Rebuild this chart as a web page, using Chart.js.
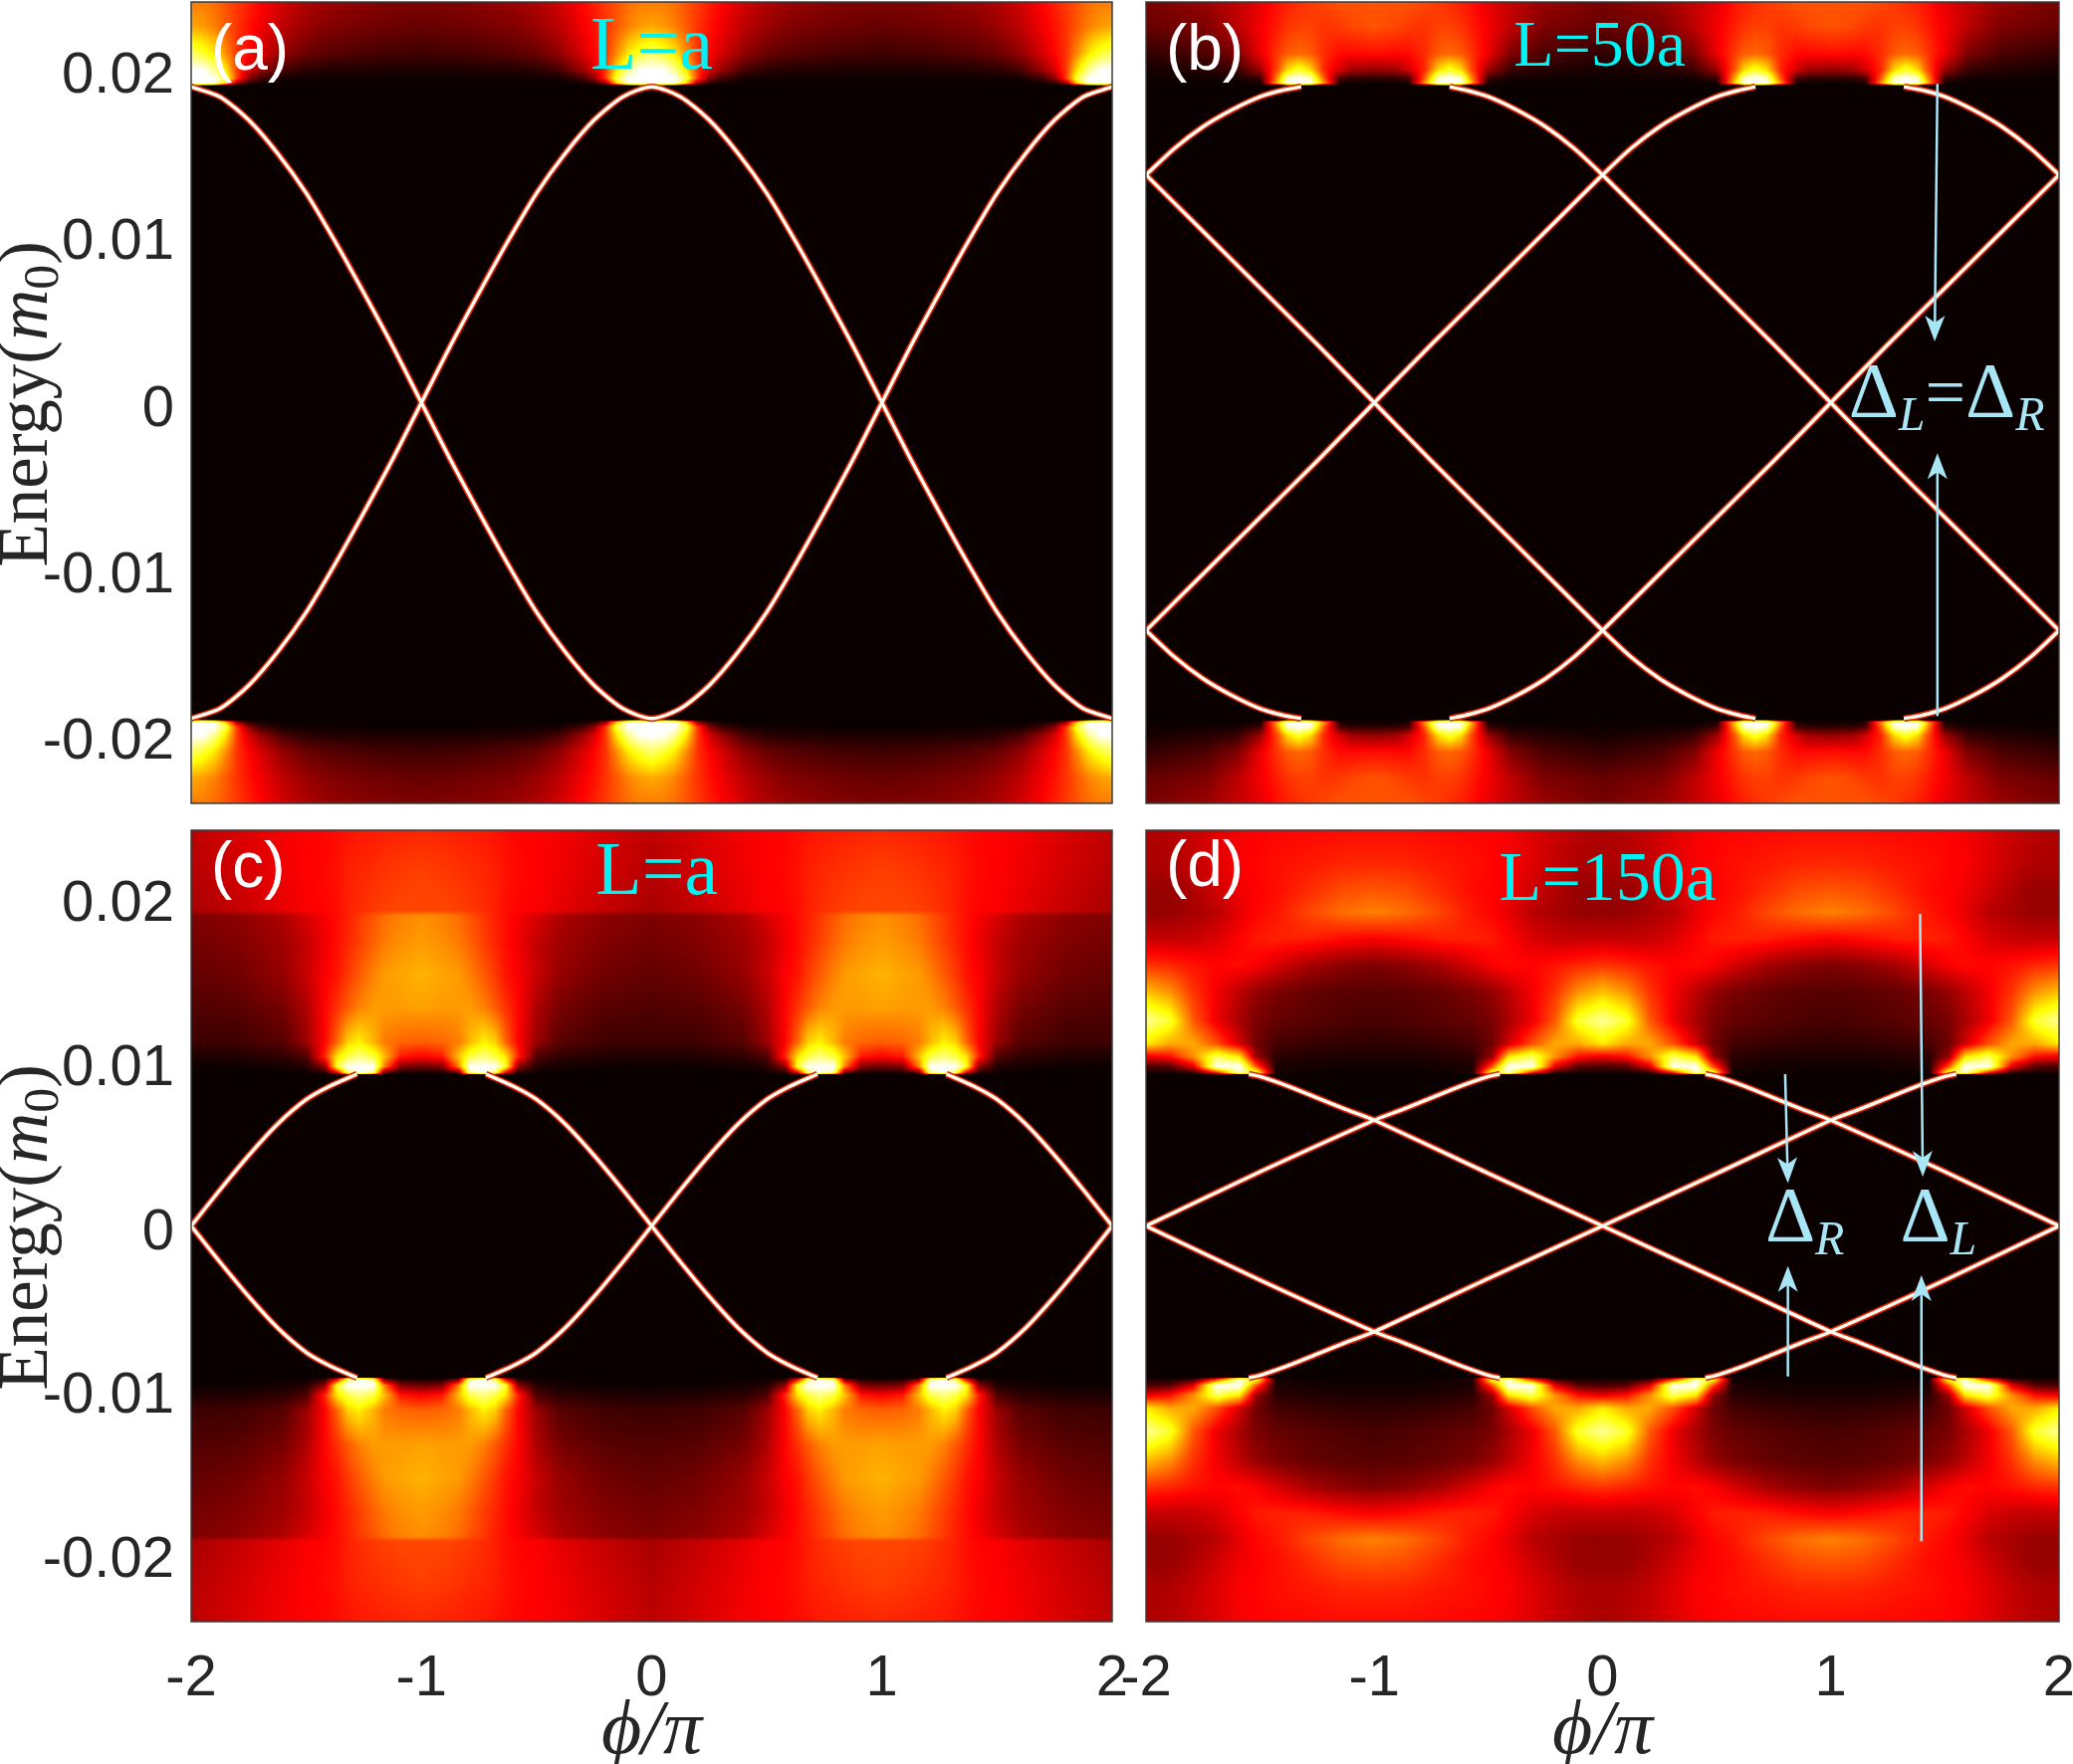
<!DOCTYPE html>
<html>
<head>
<meta charset="utf-8">
<title>Energy spectra</title>
<script src="https://cdn.jsdelivr.net/npm/chart.js@4"></script>
<style>
  html, body { margin: 0; background: #fff; }
  body { width: 2082px; height: 1772px; position: relative; overflow: hidden; }
  canvas { position: absolute; }
</style>
</head>
<body>
<canvas id="panel-a" width="1160" height="820" style="left:0;top:0"></canvas>
<canvas id="panel-b" width="982" height="820" style="left:1100px;top:0"></canvas>
<canvas id="panel-c" width="1160" height="952" style="left:0;top:820px"></canvas>
<canvas id="panel-d" width="982" height="952" style="left:1100px;top:820px"></canvas>
<script>
const xTicks = [-2, -1, 0, 1, 2];
const xTickLabels = ['-2', '-1', '0', '1', '2'];
const yTicks = [-0.02, -0.01, 0, 0.01, 0.02];
const yTickLabels = ['-0.02', '-0.01', '0', '0.01', '0.02'];

// bound-state curves (null = no visible line on the band edge)
const aPhi = [-2, -1.875, -1.75, -1.625, -1.5, -1.375, -1.25, -1.125, -1, -0.875, -0.75, -0.625, -0.5, -0.375, -0.25, -0.125, 0, 0.125, 0.25, 0.375, 0.5, 0.625, 0.75, 0.875, 1, 1.125, 1.25, 1.375, 1.5, 1.625, 1.75, 1.875, 2];
const aCurve = [0.019, 0.0184, 0.017, 0.015, 0.0126, 0.0097, 0.0066, 0.0034, 0, -0.0034, -0.0066, -0.0097, -0.0126, -0.015, -0.017, -0.0184, -0.019, -0.0184, -0.017, -0.015, -0.0126, -0.0097, -0.0066, -0.0034, 0, 0.0034, 0.0066, 0.0097, 0.0126, 0.015, 0.017, 0.0184, 0.019];

const bPhi = [-2, -1.875, -1.75, -1.625, -1.5, -1.4, -1.32, -1, -0.67, -0.6, -0.5, -0.375, -0.25, -0.125, 0, 0.25, 0.5, 0.75, 1, 1.25, 1.5, 1.75, 2];
const bCurve = [0.0137, 0.0153, 0.0166, 0.0176, 0.0184, 0.0188, 0.019, null, 0.019, 0.0188, 0.0184, 0.0176, 0.0166, 0.0153, 0.0137, 0.0103, 0.0069, 0.0035, 0, -0.0035, -0.0069, -0.0103, -0.0137];

const cPhi = [-2, -1.875, -1.75, -1.625, -1.5, -1.4, -1.28, -1, -0.72, -0.6, -0.5, -0.375, -0.25, -0.125, 0, 0.125, 0.25, 0.375, 0.5, 0.6, 0.72, 1, 1.28, 1.4, 1.5, 1.625, 1.75, 1.875, 2];
const cCurve = [0, 0.0022, 0.0043, 0.0062, 0.0077, 0.0085, 0.00925, null, 0.00925, 0.0085, 0.0077, 0.0062, 0.0043, 0.0022, 0, -0.0022, -0.0043, -0.0062, -0.0077, -0.0085, -0.00925, null, -0.00925, -0.0085, -0.0077, -0.0062, -0.0043, -0.0022, 0];

const dPhiOuter = [-2, -1.5, -1, -0.875, -0.75, -0.625, -0.5, -0.45, 0, 0.45, 0.5, 0.625, 0.75, 0.875, 1, 1.5, 2];
const dCurveOuter = [0, 0.0033, 0.00644, 0.0071, 0.0078, 0.0085, 0.0091, 0.00925, null, 0.00925, 0.0091, 0.0085, 0.0078, 0.0071, 0.00644, 0.0033, 0];
const dPhiInner = [-1.55, -1.5, -1.375, -1.25, -1.125, -1, -0.5, 0, 0.5, 1, 1.125, 1.25, 1.375, 1.5, 1.55];
const dCurveInner = [0.00925, 0.0091, 0.0085, 0.0078, 0.0071, 0.00644, 0.0032, 0, -0.0032, -0.00644, -0.0071, -0.0078, -0.0085, -0.0091, -0.00925];

// spectral weight above the gap, 0 black .. 1 white. Rows go up in |E|, columns go
// from phi = 0 to phi = pi (the picture repeats and mirrors these)
const aHeatPhi = [0, 0.05, 0.1, 0.15, 0.2, 0.25, 0.3, 0.4, 0.5, 0.6, 0.8, 1];
const aHeatE = [0.0191, 0.0192, 0.0195, 0.02, 0.021, 0.0226, 0.0241];
const aHeat = [
  [0.5, 0.5, 0.4, 0.1, 0.02, 0.014, 0.014, 0.014, 0.014, 0.014, 0.014, 0.014],
  [1, 1, 1, 0.7, 0.2, 0.06, 0.03, 0.015, 0.015, 0.015, 0.015, 0.015],
  [1, 1, 1, 0.82, 0.45, 0.2, 0.09, 0.03, 0.025, 0.02, 0.02, 0.02],
  [1, 1, 0.9, 0.72, 0.45, 0.31, 0.22, 0.1, 0.06, 0.05, 0.04, 0.04],
  [0.85, 0.8, 0.72, 0.58, 0.44, 0.37, 0.31, 0.21, 0.15, 0.125, 0.1, 0.09],
  [0.62, 0.6, 0.56, 0.5, 0.44, 0.39, 0.35, 0.27, 0.22, 0.185, 0.16, 0.145],
  [0.55, 0.55, 0.53, 0.49, 0.45, 0.41, 0.37, 0.3, 0.25, 0.22, 0.19, 0.18],
];

const bHeatPhi = [0, 0.26, 0.4, 0.5, 0.58, 0.62, 0.67, 0.72, 0.78, 0.85, 0.9, 1];
const bHeatE = [0.0191, 0.0192, 0.0195, 0.02, 0.021, 0.0226, 0.0241];
const bHeat = [
  [0.014, 0.014, 0.014, 0.014, 0.05, 0.4, 0.5, 0.4, 0.05, 0.014, 0.014, 0.014],
  [0.015, 0.015, 0.015, 0.03, 0.7, 1, 1, 1, 0.6, 0.04, 0.02, 0.02],
  [0.02, 0.025, 0.03, 0.08, 0.62, 0.95, 1, 0.95, 0.5, 0.1, 0.07, 0.06],
  [0.03, 0.05, 0.08, 0.22, 0.5, 0.7, 0.8, 0.7, 0.42, 0.3, 0.23, 0.21],
  [0.07, 0.11, 0.18, 0.34, 0.45, 0.5, 0.52, 0.5, 0.43, 0.38, 0.375, 0.385],
  [0.145, 0.18, 0.27, 0.35, 0.41, 0.44, 0.46, 0.46, 0.44, 0.45, 0.47, 0.49],
  [0.17, 0.22, 0.28, 0.33, 0.39, 0.41, 0.43, 0.45, 0.47, 0.49, 0.49, 0.49],
];

const cHeatPhi = [0, 0.2, 0.4, 0.5, 0.58, 0.635, 0.68, 0.73, 0.79, 0.84, 0.91, 1];
const cHeatE = [0.00925, 0.0093, 0.0097, 0.0103, 0.0112, 0.0133, 0.0153, 0.0173, 0.0189, 0.0192, 0.0217, 0.0241];
const cHeat = [
  [0.014, 0.014, 0.014, 0.014, 0.02, 0.1, 0.4, 0.5, 0.4, 0.03, 0.014, 0.014],
  [0.014, 0.014, 0.014, 0.02, 0.04, 0.3, 0.85, 1, 0.9, 0.1, 0.03, 0.02],
  [0.02, 0.02, 0.03, 0.05, 0.2, 0.8, 1, 1, 1, 0.55, 0.18, 0.15],
  [0.04, 0.045, 0.065, 0.11, 0.42, 0.72, 0.82, 0.88, 0.82, 0.65, 0.4, 0.36],
  [0.085, 0.09, 0.125, 0.22, 0.37, 0.52, 0.68, 0.73, 0.64, 0.55, 0.52, 0.505],
  [0.115, 0.125, 0.17, 0.25, 0.37, 0.44, 0.5, 0.56, 0.6, 0.6, 0.6, 0.61],
  [0.14, 0.16, 0.215, 0.285, 0.36, 0.395, 0.45, 0.5, 0.56, 0.6, 0.615, 0.635],
  [0.165, 0.185, 0.23, 0.28, 0.345, 0.385, 0.42, 0.46, 0.51, 0.55, 0.58, 0.6],
  [0.18, 0.2, 0.25, 0.31, 0.355, 0.385, 0.41, 0.45, 0.49, 0.53, 0.56, 0.58],
  [0.24, 0.28, 0.33, 0.36, 0.37, 0.385, 0.41, 0.43, 0.45, 0.46, 0.47, 0.47],
  [0.26, 0.3, 0.345, 0.365, 0.375, 0.39, 0.41, 0.42, 0.43, 0.44, 0.45, 0.46],
  [0.27, 0.31, 0.35, 0.365, 0.37, 0.38, 0.39, 0.4, 0.405, 0.41, 0.415, 0.42],
];

const dHeatPhi = [0, 0.105, 0.207, 0.31, 0.41, 0.483, 0.57, 0.716, 0.86, 1];
const dHeatE = [0.00925, 0.0093, 0.0097, 0.0103, 0.0111, 0.0125, 0.0143, 0.0159, 0.0175, 0.0191, 0.0204, 0.022, 0.0241];
const dHeat = [
  [0.014, 0.014, 0.014, 0.15, 0.5, 0.4, 0.014, 0.014, 0.014, 0.014],
  [0.03, 0.03, 0.05, 0.35, 0.95, 0.85, 0.03, 0.02, 0.02, 0.02],
  [0.1, 0.12, 0.32, 1, 1, 0.5, 0.04, 0.03, 0.025, 0.025],
  [0.33, 0.38, 0.58, 0.85, 0.72, 0.22, 0.06, 0.045, 0.04, 0.04],
  [0.72, 0.62, 0.62, 0.48, 0.3, 0.16, 0.1, 0.08, 0.07, 0.065],
  [0.9, 0.8, 0.5, 0.34, 0.24, 0.175, 0.145, 0.125, 0.11, 0.1],
  [0.65, 0.58, 0.44, 0.35, 0.27, 0.215, 0.18, 0.145, 0.13, 0.125],
  [0.44, 0.42, 0.39, 0.37, 0.38, 0.36, 0.31, 0.24, 0.2, 0.18],
  [0.285, 0.28, 0.285, 0.315, 0.365, 0.4, 0.415, 0.41, 0.38, 0.36],
  [0.21, 0.215, 0.24, 0.265, 0.33, 0.37, 0.395, 0.47, 0.53, 0.56],
  [0.215, 0.215, 0.25, 0.295, 0.345, 0.365, 0.38, 0.43, 0.48, 0.495],
  [0.245, 0.25, 0.28, 0.32, 0.36, 0.37, 0.385, 0.4, 0.42, 0.425],
  [0.245, 0.26, 0.285, 0.32, 0.35, 0.365, 0.37, 0.375, 0.38, 0.38],
];

// arrows as x1, E1, x2, E2
const bArrows = [[1.467, 0.01917, 1.455, 0.00368], [1.467, -0.01885, 1.467, -0.00304]];
const dArrows = [[0.8, 0.00925, 0.812, 0.0026], [0.812, -0.00917, 0.812, -0.00244], [1.391, 0.019, 1.403, 0.003], [1.397, -0.0192, 1.397, -0.003]];

const SANS = '"Liberation Sans", Arial, sans-serif';
const SERIF = '"Liberation Serif", serif';
const CYAN = '#00f2f2';
const PALE = '#a8e6f5';
const INK = '#262626';

// matlab "hot"
function hot(v) {
  return [
    Math.min(255, 255 * v / 0.365),
    Math.max(0, Math.min(255, 255 * (v - 0.365) / 0.385)),
    Math.max(0, Math.min(255, 255 * (v - 0.75) / 0.25)),
  ];
}

function bracket(list, v) {
  let i = 0;
  while (i < list.length - 2 && list[i + 1] < v) i++;
  const t = (v - list[i]) / (list[i + 1] - list[i]);
  return [i, Math.max(0, Math.min(1, t))];
}

const heatPlugin = {
  id: 'heat',
  beforeDatasetsDraw(chart, args, opts) {
    const { ctx, chartArea: area, scales } = chart;
    const x0 = Math.round(area.left), y0 = Math.round(area.top);
    const w = Math.round(area.right) - x0, h = Math.round(area.bottom) - y0;
    const img = ctx.createImageData(w, h);
    const base = hot(0.014);
    let k = 0;
    for (let py = 0; py < h; py++) {
      const e = Math.abs(scales.y.getValueForPixel(y0 + py + 0.5));
      const inGap = e < opts.energy[0];
      const [r, tr] = bracket(opts.energy, e);
      for (let px = 0; px < w; px++) {
        let c = base;
        if (!inGap) {
          const phi = Math.abs(scales.x.getValueForPixel(x0 + px + 0.5));
          const fold = Math.abs((phi + 1) % 2 - 1);
          const [q, tq] = bracket(opts.phi, fold);
          const lo = opts.values[r][q] * (1 - tq) + opts.values[r][q + 1] * tq;
          const up = opts.values[r + 1][q] * (1 - tq) + opts.values[r + 1][q + 1] * tq;
          c = hot(lo * (1 - tr) + up * tr);
        }
        img.data[k++] = c[0];
        img.data[k++] = c[1];
        img.data[k++] = c[2];
        img.data[k++] = 255;
      }
    }
    ctx.putImageData(img, x0, y0);
  },
};

// text made of several font runs, left aligned at x,y
function drawRuns(ctx, runs, x, y, color) {
  ctx.fillStyle = color;
  ctx.textBaseline = 'alphabetic';
  ctx.textAlign = 'left';
  runs.forEach(run => {
    ctx.font = run.font;
    ctx.fillText(run.text, x, y + (run.dy || 0));
    x += ctx.measureText(run.text).width;
  });
}

const notesPlugin = {
  id: 'notes',
  afterDraw(chart, args, opts) {
    const { ctx, chartArea: area, scales } = chart;
    ctx.save();
    ctx.strokeStyle = '#3c3c3c';
    ctx.lineWidth = 1.5;
    ctx.strokeRect(area.left, area.top, area.right - area.left, area.bottom - area.top);

    (opts.arrows || []).forEach(([x1, e1, x2, e2]) => {
      const ax = scales.x.getPixelForValue(x1), ay = scales.y.getPixelForValue(e1);
      const bx = scales.x.getPixelForValue(x2), by = scales.y.getPixelForValue(e2);
      const ang = Math.atan2(by - ay, bx - ax);
      ctx.strokeStyle = PALE;
      ctx.fillStyle = PALE;
      ctx.lineWidth = 2.5;
      ctx.beginPath();
      ctx.moveTo(ax, ay);
      ctx.lineTo(bx - 14 * Math.cos(ang), by - 14 * Math.sin(ang));
      ctx.stroke();
      ctx.save();
      ctx.translate(bx, by);
      ctx.rotate(ang);
      ctx.beginPath();
      ctx.moveTo(0, 0);
      ctx.lineTo(-26, -10);
      ctx.lineTo(-19, 0);
      ctx.lineTo(-26, 10);
      ctx.closePath();
      ctx.fill();
      ctx.restore();
    });

    // panel letter and length
    ctx.textBaseline = 'middle';
    ctx.textAlign = 'left';
    ctx.fillStyle = '#fff';
    ctx.font = '64px ' + SANS;
    ctx.fillText(opts.letter[0], scales.x.getPixelForValue(opts.letter[1]), scales.y.getPixelForValue(opts.letter[2]));
    ctx.textAlign = 'center';
    ctx.fillStyle = CYAN;
    ctx.font = opts.length[3] + 'px ' + SERIF;
    ctx.fillText(opts.length[0], scales.x.getPixelForValue(opts.length[1]), scales.y.getPixelForValue(opts.length[2]));

    (opts.deltas || []).forEach(d => {
      drawRuns(ctx, d.runs, scales.x.getPixelForValue(d.x), scales.y.getPixelForValue(d.e), PALE);
    });

    if (opts.yLabel) {
      ctx.save();
      ctx.translate(47, (area.top + area.bottom) / 2 + 165);
      ctx.rotate(-Math.PI / 2);
      drawRuns(ctx, [
        { text: 'Energy(', font: '71px ' + SERIF },
        { text: 'm', font: 'italic 71px ' + SERIF },
        { text: '0', font: '50px ' + SERIF, dy: 11 },
        { text: ')', font: '71px ' + SERIF },
      ], 0, 0, INK);
      ctx.restore();
    }
    ctx.restore();
  },
};

function curve(phi, energy, sign, mirror) {
  return phi.map((p, i) => ({
    x: mirror ? -p : p,
    y: energy[i] === null ? null : sign * energy[i],
  }));
}

function lineSets(curves) {
  const common = { pointRadius: 0, tension: 0.25, spanGaps: false };
  const core = curves.map(data => ({ ...common, data, borderColor: '#fffdf0', borderWidth: 3.4 }));
  const glow = curves.map(data => ({ ...common, data, borderColor: '#e02000', borderWidth: 6.5 }));
  // first dataset is painted last
  return core.concat(glow);
}

// labels must not eat into the plot area, the panels are placed by hand
function fixBox(s, size) {
  if (s.isHorizontal()) s.height = size; else s.width = size;
  s.paddingLeft = s.paddingRight = s.paddingTop = s.paddingBottom = 0;
}

function makePanel(id, cfg) {
  new Chart(document.getElementById(id), {
    type: 'line',
    data: { datasets: lineSets(cfg.curves) },
    plugins: [heatPlugin, notesPlugin],
    options: {
      responsive: false,
      animation: false,
      devicePixelRatio: 1,
      layout: { autoPadding: false, padding: cfg.padding },
      plugins: {
        legend: { display: false },
        tooltip: { enabled: false },
        heat: cfg.heat,
        notes: cfg.notes,
      },
      scales: {
        x: {
          type: 'linear',
          min: -2,
          max: 2,
          display: cfg.showX,
          afterBuildTicks: s => { s.ticks = xTicks.map(value => ({ value })); },
          afterFit: s => fixBox(s, cfg.showX ? 143 : 0),
          grid: { display: false, drawTicks: false },
          border: { display: false },
          ticks: {
            color: INK,
            padding: 23,
            maxRotation: 0,
            autoSkip: false,
            font: { family: SANS, size: 58 },
            callback: (v, i) => xTickLabels[i],
          },
          title: {
            display: cfg.showX,
            text: 'ϕ/π',
            color: INK,
            font: { family: SERIF, style: 'italic', size: 78, lineHeight: 0.8 },
            padding: { top: 0, bottom: 0 },
          },
        },
        y: {
          type: 'linear',
          min: -0.0241,
          max: 0.0241,
          display: cfg.showY,
          afterBuildTicks: s => { s.ticks = yTicks.map(value => ({ value })); },
          afterFit: s => fixBox(s, cfg.showY ? 192 : 0),
          grid: { display: false, drawTicks: false },
          border: { display: false },
          ticks: {
            color: INK,
            padding: 17,
            autoSkip: false,
            labelOffset: 7,
            font: { family: SANS, size: 58 },
            callback: (v, i) => yTickLabels[i],
          },
        },
      },
    },
  });
}

const subL = { text: 'L', font: 'italic 48px ' + SERIF, dy: 14 };
const subR = { text: 'R', font: 'italic 48px ' + SERIF, dy: 14 };
const bigDelta = { text: 'Δ', font: '78px ' + SERIF };

makePanel('panel-a', {
  padding: { left: 0, right: 43, top: 2, bottom: 13 },
  showX: false,
  showY: true,
  curves: [curve(aPhi, aCurve, 1), curve(aPhi, aCurve, -1)],
  heat: { phi: aHeatPhi, energy: aHeatE, values: aHeat },
  notes: { letter: ['(a)', -1.914, 0.0211], length: ['L=a', 0, 0.0213, 76], yLabel: true },
});

makePanel('panel-b', {
  padding: { left: 51, right: 14, top: 2, bottom: 13 },
  showX: false,
  showY: false,
  curves: [curve(bPhi, bCurve, 1), curve(bPhi, bCurve, -1), curve(bPhi, bCurve, 1, true), curve(bPhi, bCurve, -1, true)],
  heat: { phi: bHeatPhi, energy: bHeatE, values: bHeat },
  notes: {
    letter: ['(b)', -1.913, 0.0211],
    length: ['L=50a', -0.012, 0.0213, 66],
    arrows: bArrows,
    deltas: [{ x: 1.078, e: -0.0008, runs: [bigDelta, subL, { text: '=', font: '72px ' + SERIF }, bigDelta, subR] }],
  },
});

makePanel('panel-c', {
  padding: { left: 0, right: 43, top: 14, bottom: 0 },
  showX: true,
  showY: true,
  curves: [curve(cPhi, cCurve, 1), curve(cPhi, cCurve, -1)],
  heat: { phi: cHeatPhi, energy: cHeatE, values: cHeat },
  notes: { letter: ['(c)', -1.914, 0.0217], length: ['L=a', 0.023, 0.0214, 76], yLabel: true },
});

makePanel('panel-d', {
  padding: { left: 51, right: 14, top: 14, bottom: 0 },
  showX: true,
  showY: false,
  curves: [curve(dPhiOuter, dCurveOuter, 1), curve(dPhiOuter, dCurveOuter, -1), curve(dPhiInner, dCurveInner, 1), curve(dPhiInner, dCurveInner, -1)],
  heat: { phi: dHeatPhi, energy: dHeatE, values: dHeat },
  notes: {
    letter: ['(d)', -1.913, 0.0218],
    length: ['L=150a', 0.023, 0.021, 70],
    arrows: dArrows,
    deltas: [
      { x: 0.713, e: -0.0009, runs: [bigDelta, subR] },
      { x: 1.304, e: -0.0009, runs: [bigDelta, subL] },
    ],
  },
});
</script>
</body>
</html>
